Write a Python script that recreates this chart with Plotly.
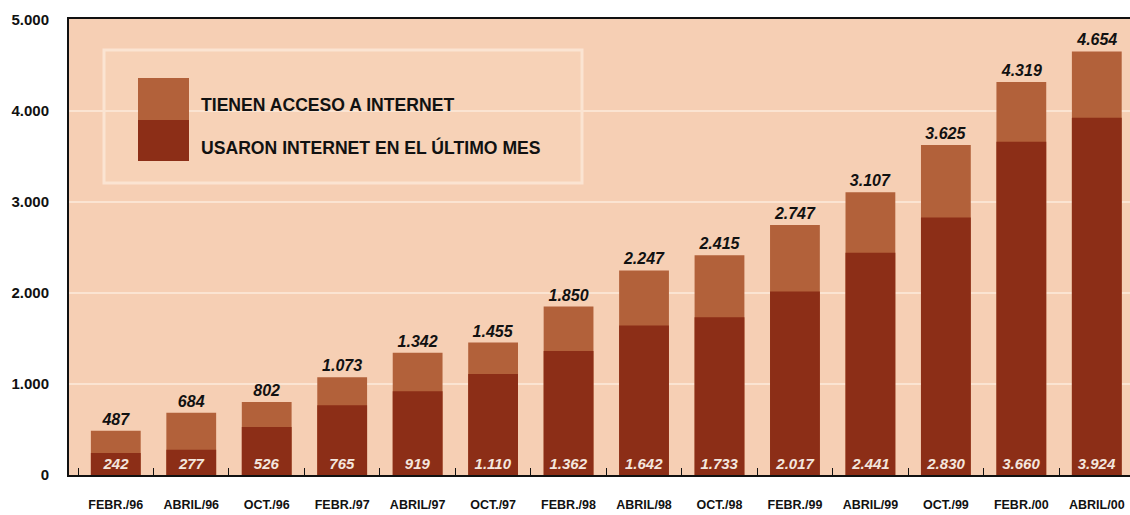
import plotly.graph_objects as go

periodos = ["FEBR./96", "ABRIL/96", "OCT./96", "FEBR./97", "ABRIL/97", "OCT./97",
            "FEBR./98", "ABRIL/98", "OCT./98", "FEBR./99", "ABRIL/99", "OCT./99",
            "FEBR./00", "ABRIL/00"]
tienen_acceso = [487, 684, 802, 1073, 1342, 1455, 1850, 2247, 2415, 2747, 3107, 3625, 4319, 4654]
usaron_ultimo_mes = [242, 277, 526, 765, 919, 1110, 1362, 1642, 1733, 2017, 2441, 2830, 3660, 3924]
y_ticks = [0, 1000, 2000, 3000, 4000, 5000]

FONT = "Liberation Sans, Arial, Helvetica, sans-serif"
C_ACCESO = "#B2613A"
C_USARON = "#8C2E17"
BG = "#F6CFB4"
GRID = "#FBE4D2"

fig = go.Figure()

fig.add_trace(go.Bar(
    x=periodos, y=tienen_acceso, name="TIENEN ACCESO A INTERNET",
    marker=dict(color=C_ACCESO, line=dict(width=0)),
    texttemplate="%{y:,d}", textposition="outside", cliponaxis=False,
    textfont=dict(family=FONT, size=16, color="#111111", weight="bold", style="italic"),
    showlegend=False,
))
fig.add_trace(go.Bar(
    x=periodos, y=usaron_ultimo_mes, name="USARON INTERNET EN EL ÚLTIMO MES",
    marker=dict(color=C_USARON, line=dict(width=0)),
    texttemplate="%{y:,d}", textposition="inside", insidetextanchor="start",
    constraintext="none",
    textfont=dict(family=FONT, size=15, color="#F4E6DE", weight="bold", style="italic"),
    showlegend=False,
))

# Legend panel: outlined box with a two-tone swatch
fig.add_shape(type="rect", xref="paper", yref="paper",
              x0=(104 - 69) / 1061, x1=(582 - 69) / 1061,
              y0=(475 - 183) / 456, y1=(475 - 50) / 456,
              line=dict(color=GRID, width=3), fillcolor="rgba(250,215,190,0.35)", layer="below")
fig.add_shape(type="rect", xref="paper", yref="paper",
              x0=(138 - 69) / 1061, x1=(189 - 69) / 1061,
              y0=(475 - 120) / 456, y1=(475 - 78) / 456,
              line=dict(width=0), fillcolor=C_ACCESO)
fig.add_shape(type="rect", xref="paper", yref="paper",
              x0=(138 - 69) / 1061, x1=(189 - 69) / 1061,
              y0=(475 - 161) / 456, y1=(475 - 120) / 456,
              line=dict(width=0), fillcolor=C_USARON)
for label, ypix in [("TIENEN ACCESO A INTERNET", 105), ("USARON INTERNET EN EL ÚLTIMO MES", 147)]:
    fig.add_annotation(text=label, xref="paper", yref="paper",
                       x=(199 - 69) / 1061, y=(475 - ypix) / 456,
                       xanchor="left", yanchor="middle", showarrow=False,
                       font=dict(family=FONT, size=17.6, color="#111111", weight="bold"))

fig.update_layout(
    width=1130, height=515,
    margin=dict(l=69, r=0, t=19, b=40),
    paper_bgcolor="white", plot_bgcolor=BG,
    barmode="overlay", bargap=0.34,
    separators=",.",
    font=dict(family=FONT, color="#111111"),
)
fig.update_xaxes(
    range=[-0.62, 13.44],
    showline=True, linecolor="#111111", linewidth=2, mirror=True,
    ticks="inside", tickson="boundaries", ticklen=7, tickcolor="#111111", tickwidth=1,
    tickfont=dict(family=FONT, size=12.5, weight="bold", color="#111111"),
    ticklabelstandoff=17, showgrid=False,
)
fig.update_yaxes(
    range=[0, 5010], tickvals=y_ticks, tickformat=",d",
    showline=True, linecolor="#111111", linewidth=2,
    showgrid=True, gridcolor=GRID, gridwidth=2, zeroline=False,
    ticks="", ticklabelstandoff=15,
    tickfont=dict(family=FONT, size=15, weight="bold", color="#111111"),
)

fig.write_html("out.html")
